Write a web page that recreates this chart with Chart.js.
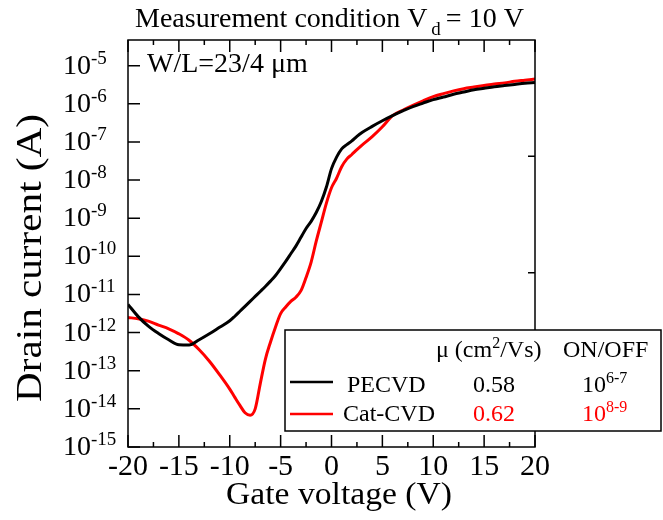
<!DOCTYPE html>
<html><head><meta charset="utf-8">
<script src="https://cdn.jsdelivr.net/npm/chart.js@4.4.0/dist/chart.umd.min.js"></script>
<style>html,body{margin:0;padding:0;background:#fff}</style>
</head><body>
<canvas id="c" width="663" height="520"></canvas>
<script>
// Gate voltage (V)
const gateVoltage = [-20,-19,-18,-17,-16,-15,-14,-13,-12,-11,-10,-9.5,-9,-8.5,-8,-7.5,-7,-6.5,-6,-5.5,-5,-4.5,-4,-3.5,-3,-2.5,-2,-1.5,-1,-0.5,0,0.5,1,1.5,2,2.5,3,4,5,6,7,8,9,10,11,12,13,14,15,16,17,18,19,20];
// Drain current (A), PECVD
const pecvdCurrent = [5.5e-12,2.63e-12,1.48e-12,9.5e-13,6.5e-13,4.8e-13,4.7e-13,6.5e-13,9.3e-13,1.38e-12,2.04e-12,2.69e-12,3.63e-12,4.9e-12,6.6e-12,8.9e-12,1.2e-11,1.62e-11,2.24e-11,3.16e-11,4.8e-11,7.4e-11,1.17e-10,1.86e-10,3.16e-10,5.4e-10,8.3e-10,1.41e-9,2.75e-9,6.6e-9,2.0e-8,4.0e-8,6.6e-8,8.5e-8,1.07e-7,1.41e-7,1.78e-7,2.57e-7,3.6e-7,4.9e-7,6.5e-7,8.5e-7,1.05e-6,1.29e-6,1.51e-6,1.78e-6,2.04e-6,2.34e-6,2.57e-6,2.82e-6,3.02e-6,3.24e-6,3.47e-6,3.63e-6];
// Drain current (A), Cat-CVD
const catcvdCurrent = [2.5e-12,2.3e-12,2.0e-12,1.58e-12,1.26e-12,9.3e-13,6.3e-13,3.55e-13,1.78e-13,7.9e-14,3.3e-14,2.0e-14,1.23e-14,7.9e-15,6.8e-15,1.0e-14,4.6e-14,2.0e-13,5.6e-13,1.41e-12,3.16e-12,4.7e-12,6.6e-12,8.5e-12,1.26e-11,2.8e-11,7.1e-11,2.5e-10,7.9e-10,2.5e-9,6.3e-9,1.12e-8,2.24e-8,3.55e-8,4.7e-8,6.3e-8,8.3e-8,1.38e-7,2.5e-7,4.9e-7,6.8e-7,9.1e-7,1.2e-6,1.55e-6,1.86e-6,2.19e-6,2.5e-6,2.75e-6,3.02e-6,3.31e-6,3.55e-6,3.9e-6,4.17e-6,4.47e-6];

const xTickValues = [-20,-15,-10,-5,0,5,10,15,20];
const xTickLabels = ['-20','-15','-10','-5','0','5','10','15','20'];
const xMinorTicks = [-17.5,-12.5,-7.5,-2.5,2.5,7.5,12.5,17.5];
const yTickValues = [1e-5,1e-6,1e-7,1e-8,1e-9,1e-10,1e-11,1e-12,1e-13,1e-14,1e-15];
const yTickExponents = ['-5','-6','-7','-8','-9','-10','-11','-12','-13','-14','-15'];
const rightTickValues = [4.2e-8,3.7e-11];

const seriesNames = ['PECVD','Cat-CVD'];
const seriesColors = ['#000000','#ff0000'];
const mobilityValues = ['0.58','0.62'];
const onOffExponents = ['6-7','8-9'];

const FONT = '"Liberation Serif", "Times New Roman", serif';
function setFont(ctx, size){ ctx.font = size + 'px ' + FONT; }

const decor = {
  id: 'decor',
  afterDraw(chart){
    const ctx = chart.ctx;
    const {left, right, top, bottom} = chart.chartArea;
    const xs = chart.scales.x, ys = chart.scales.y;
    ctx.save();
    ctx.strokeStyle = '#000';
    ctx.fillStyle = '#000';
    ctx.lineWidth = 1.5;
    ctx.strokeRect(left, top, right-left, bottom-top);
    ctx.beginPath();
    xTickValues.forEach(v => {
      const px = xs.getPixelForValue(v);
      ctx.moveTo(px, bottom); ctx.lineTo(px, bottom-12);
      ctx.moveTo(px, top); ctx.lineTo(px, top+12);
    });
    xMinorTicks.forEach(v => {
      const px = xs.getPixelForValue(v);
      ctx.moveTo(px, bottom); ctx.lineTo(px, bottom-5);
      ctx.moveTo(px, top); ctx.lineTo(px, top+5);
    });
    yTickValues.forEach(v => {
      const py = ys.getPixelForValue(v);
      ctx.moveTo(left, py); ctx.lineTo(left+12, py);
    });
    rightTickValues.forEach(v => {
      const py = ys.getPixelForValue(v);
      ctx.moveTo(right, py); ctx.lineTo(right-7, py);
    });
    ctx.stroke();

    setFont(ctx, 30);
    ctx.textAlign = 'center';
    ctx.textBaseline = 'alphabetic';
    xTickValues.forEach((v,i) => {
      ctx.fillText(xTickLabels[i], xs.getPixelForValue(v), 475);
    });
    ctx.textAlign = 'left';
    yTickValues.forEach((v,i) => {
      const py = ys.getPixelForValue(v);
      setFont(ctx, 28);
      ctx.fillText('10', 63, py+8);
      const w = ctx.measureText('10').width;
      setFont(ctx, 19);
      ctx.fillText(yTickExponents[i], 63+w, py-2);
    });

    setFont(ctx, 28);
    const t1 = 'Measurement condition V';
    ctx.fillText(t1, 135, 27);
    let xx = 135 + ctx.measureText(t1).width + 4;
    setFont(ctx, 19);
    ctx.fillText('d', xx, 35);
    xx += ctx.measureText('d').width + 5;
    setFont(ctx, 28);
    ctx.fillText('= 10 V', xx, 27);

    ctx.fillText('W/L=23/4 \u03bcm', 147, 72);

    setFont(ctx, 31);
    const xt = 'Gate voltage (V)';
    const xtw = ctx.measureText(xt).width;
    ctx.save();
    ctx.translate(226, 504);
    ctx.scale(226/xtw, 1);
    ctx.fillText(xt, 0, 0);
    ctx.restore();

    setFont(ctx, 35);
    const yt = 'Drain current (A)';
    const ytw = ctx.measureText(yt).width;
    ctx.save();
    ctx.translate(41, 402);
    ctx.rotate(-Math.PI/2);
    ctx.scale(288/ytw, 1);
    ctx.fillText(yt, 0, 0);
    ctx.restore();

    ctx.fillStyle = '#fff';
    ctx.fillRect(285, 330, 376, 101);
    ctx.strokeStyle = '#000';
    ctx.lineWidth = 1.5;
    ctx.strokeRect(285, 330, 376, 101);
    ctx.fillStyle = '#000';
    setFont(ctx, 24);
    let hx = 436;
    ctx.fillText('\u03bc (cm', hx, 357);
    hx += ctx.measureText('\u03bc (cm').width;
    setFont(ctx, 16);
    ctx.fillText('2', hx, 348);
    hx += ctx.measureText('2').width;
    setFont(ctx, 24);
    ctx.fillText('/Vs)', hx, 357);
    ctx.fillText('ON/OFF', 563, 357);
    const rowLine = [382, 414];
    const rowBase = [392, 421];
    const nameX = [347, 343];
    seriesNames.forEach((n,i) => {
      ctx.strokeStyle = seriesColors[i];
      ctx.lineWidth = 2.5;
      ctx.beginPath();
      ctx.moveTo(290, rowLine[i]); ctx.lineTo(333, rowLine[i]);
      ctx.stroke();
      ctx.fillStyle = '#000';
      setFont(ctx, 24);
      ctx.textAlign = 'left';
      ctx.fillText(n, nameX[i], rowBase[i]);
      ctx.fillStyle = seriesColors[i];
      ctx.textAlign = 'center';
      ctx.fillText(mobilityValues[i], 494, rowBase[i]);
      ctx.textAlign = 'left';
      ctx.fillText('10', 582, rowBase[i]);
      const w10 = ctx.measureText('10').width;
      setFont(ctx, 16);
      ctx.fillText(onOffExponents[i], 582 + w10, rowBase[i]-9);
    });
    ctx.restore();
  }
};

new Chart(document.getElementById('c').getContext('2d'), {
  type: 'line',
  data: {
    datasets: [
      { label: seriesNames[0], data: gateVoltage.map((v,i)=>({x:v, y:pecvdCurrent[i]})),
        borderColor: seriesColors[0], borderWidth: 3, pointRadius: 0, fill: false, cubicInterpolationMode: 'monotone' },
      { label: seriesNames[1], data: gateVoltage.map((v,i)=>({x:v, y:catcvdCurrent[i]})),
        borderColor: seriesColors[1], borderWidth: 3, pointRadius: 0, fill: false, cubicInterpolationMode: 'monotone' }
    ]
  },
  options: {
    responsive: false,
    animation: false,
    devicePixelRatio: 1,
    layout: { padding: { left: 128, right: 128, top: 40, bottom: 73 } },
    plugins: { legend: { display: false }, title: { display: false }, tooltip: { enabled: false } },
    scales: {
      x: { type: 'linear', min: -20, max: 20, display: false },
      y: { type: 'logarithmic', min: 1e-15, max: 4.73e-5, display: false }
    }
  },
  plugins: [decor]
});
</script>
</body></html>
